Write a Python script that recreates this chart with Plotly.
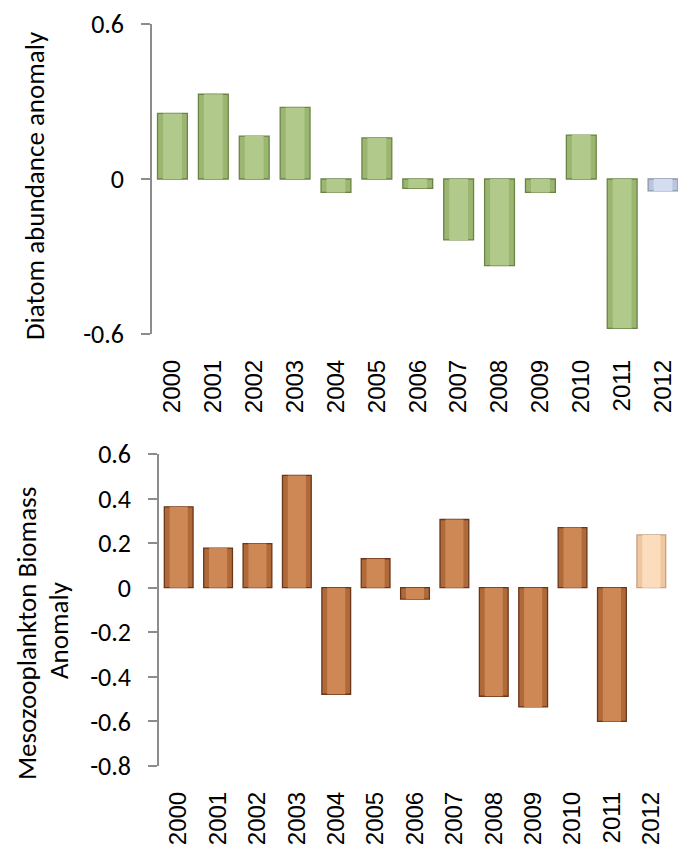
import plotly.graph_objects as go

years = ["2000", "2001", "2002", "2003", "2004", "2005", "2006",
         "2007", "2008", "2009", "2010", "2011", "2012"]
diatom = [0.254, 0.328, 0.166, 0.277, -0.052, 0.159, -0.036,
          -0.236, -0.335, -0.052, 0.170, -0.578, -0.046]
meso = [0.363, 0.178, 0.198, 0.504, -0.478, 0.130, -0.051,
        0.306, -0.487, -0.535, 0.270, -0.600, 0.237]

diatom_edge = ["#9ab670"] * 12 + ["#bac6dc"]
diatom_core = ["#b1ca8b"] * 12 + ["#d3ddef"]
diatom_lines = ["#6a8446"] * 12 + ["#8b97ae"]
meso_edge = ["#b06a3a"] * 12 + ["#f1c7a0"]
meso_core = ["#cd8856"] * 12 + ["#fbdcbc"]
meso_lines = ["#6a361a"] * 12 + ["#c2a284"]

# the page body adds an 8px margin; work in page pixels and convert
OFF = 8
W, H = 686 - OFF, 844 - OFF


def px_x(p):
    return (p - OFF) / W


def px_y(p):
    return 1 - (p - OFF) / H


top_x = [px_x(152), px_x(683.5)]
top_y = [px_y(334), px_y(24)]
bot_x = [px_x(159), px_x(671)]
bot_y = [px_y(766), px_y(454)]
top_range = [-0.6, 0.6]
bot_range = [-0.8, 0.6]


def zero_pos(dom, rng):
    return dom[0] + (0 - rng[0]) / (rng[1] - rng[0]) * (dom[1] - dom[0])


AX = "#8c8c8c"
CAL = "Carlito, Lato, sans-serif"
TICKFONT = dict(family=CAL, size=26, color="#000")
XFONT = dict(family="Liberation Sans, Arial, sans-serif", size=24, color="#000")

fig = go.Figure()
for vals, xa, ya, edge, core, lines in [
    (diatom, "x", "y", diatom_edge, diatom_core, diatom_lines),
    (meso, "x2", "y2", meso_edge, meso_core, meso_lines),
]:
    fig.add_trace(go.Bar(x=years, y=vals, xaxis=xa, yaxis=ya, width=0.73,
                         marker=dict(color=edge, line=dict(color=lines, width=1.3)),
                         showlegend=False, hoverinfo="x+y"))
    fig.add_trace(go.Bar(x=years, y=vals, xaxis=xa, yaxis=ya, width=0.46,
                         marker=dict(color=core, line=dict(width=0)),
                         showlegend=False, hoverinfo="skip"))

n = len(years)
bounds = [i + 0.5 for i in range(n)]

common_x = dict(type="category", range=[-0.5, n - 0.5], showline=False,
                ticks="", showgrid=False, zeroline=False, tickangle=-90,
                tickfont=XFONT, ticklabelstandoff=20, automargin=False)
overlay_x = dict(type="linear", range=[-0.5, n - 0.5], showline=True,
                 linecolor=AX, linewidth=1.5, ticks="outside", ticklen=8,
                 tickcolor=AX, tickwidth=1.5, tickvals=bounds,
                 showticklabels=False, showgrid=False, zeroline=False,
                 anchor="free", automargin=False)
common_y = dict(showline=True, linecolor=AX, linewidth=1.5, ticks="outside",
                ticklen=9, tickcolor=AX, tickwidth=1.5, showgrid=False,
                zeroline=False, tickfont=TICKFONT, ticklabelstandoff=12,
                automargin=False)

title_font = dict(family=CAL, size=27, color="#000")

fig.update_layout(
    width=W, height=H,
    margin=dict(l=0, r=0, t=0, b=0, autoexpand=False),
    paper_bgcolor="white", plot_bgcolor="white",
    barmode="overlay",
    xaxis=dict(domain=top_x, anchor="y", **common_x),
    yaxis=dict(domain=top_y, anchor="x", range=top_range,
               tickvals=[-0.6, 0, 0.6], ticktext=["-0.6", "0", "0.6"],
               **common_y),
    xaxis2=dict(domain=bot_x, anchor="y2", **common_x),
    yaxis2=dict(domain=bot_y, anchor="x2", range=bot_range,
                tickvals=[-0.8, -0.6, -0.4, -0.2, 0, 0.2, 0.4, 0.6],
                ticktext=["-0.8", "-0.6", "-0.4", "-0.2", "0", "0.2", "0.4", "0.6"],
                **common_y),
    xaxis3=dict(domain=top_x, overlaying="x", position=zero_pos(top_y, top_range),
                **overlay_x),
    xaxis4=dict(domain=bot_x, overlaying="x2", position=zero_pos(bot_y, bot_range),
                **overlay_x),
    annotations=[
        dict(text="Diatom abundance anomaly", textangle=-90, xref="paper",
             yref="paper", x=px_x(34), y=px_y(186), showarrow=False,
             xanchor="center", yanchor="middle", borderpad=0, font=title_font),
        dict(text="Mesozooplankton Biomass", textangle=-90,
             xref="paper", yref="paper", x=px_x(26), y=px_y(634),
             showarrow=False, xanchor="center", yanchor="middle",
             borderpad=0, font=title_font),
        dict(text="Anomaly", textangle=-90,
             xref="paper", yref="paper", x=px_x(58), y=px_y(630),
             showarrow=False, xanchor="center", yanchor="middle",
             borderpad=0, font=title_font),
    ],
)

fig.write_html("out.html")
